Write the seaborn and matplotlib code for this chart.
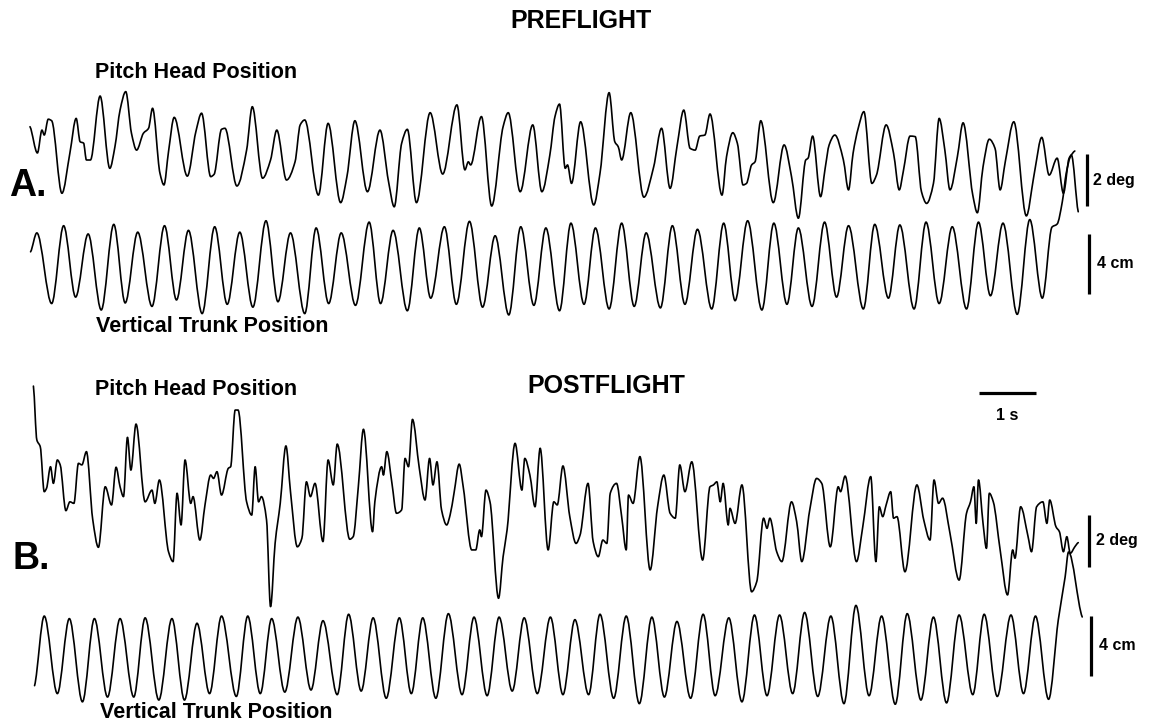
import numpy as np
import matplotlib
matplotlib.use("Agg")
import matplotlib.pyplot as plt
from matplotlib.path import Path
from matplotlib.patches import PathPatch
import seaborn as sns

# ---------------------------------------------------------------------------
# Recorded traces: time (s) and displacement (deg for head pitch, cm for trunk)
# ---------------------------------------------------------------------------
head_a_t = [
    0.00, 0.13, 0.21, 0.25, 0.32, 0.38, 0.56, 0.70, 0.81, 0.88,
    0.94, 0.99, 1.06, 1.23, 1.40, 1.49, 1.58, 1.68, 1.78, 1.87,
    1.99, 2.08, 2.15, 2.28, 2.35, 2.43, 2.53, 2.76, 2.91, 3.01,
    3.17, 3.23, 3.36, 3.42, 3.63, 3.80, 3.90, 4.08, 4.22, 4.33,
    4.50, 4.65, 4.74, 4.82, 5.06, 5.23, 5.45, 5.56, 5.70, 5.92,
    6.14, 6.29, 6.39, 6.52, 6.62, 6.78, 7.02, 7.24, 7.49, 7.63,
    7.69, 7.73, 7.92, 8.10, 8.30, 8.39, 8.60, 8.82, 8.98, 9.12,
    9.21, 9.29, 9.39, 9.43, 9.50, 9.66, 9.89, 10.00, 10.16, 10.26,
    10.32, 10.38, 10.54, 10.77, 10.94, 11.08, 11.23, 11.35, 11.47, 11.58,
    11.67, 11.75, 11.84, 11.93, 12.14, 12.22, 12.33, 12.41, 12.51, 12.57,
    12.66, 12.72, 12.82, 13.04, 13.23, 13.36, 13.48, 13.61, 13.65, 13.73,
    13.87, 13.95, 14.02, 14.12, 14.27, 14.36, 14.44, 14.53, 14.63, 14.77,
    14.85, 15.02, 15.15, 15.25, 15.32, 15.44, 15.53, 15.64, 15.73, 15.85,
    15.95, 16.05, 16.14, 16.27, 16.37, 16.54, 16.62, 16.72, 16.83, 16.93,
    17.02, 17.11, 17.26, 17.48, 17.60, 17.63, 17.75, 17.88, 18.02, 18.13,
    18.23, 18.27, 18.39,
]
head_a_deg = [
    1.28, 0.27, 1.15, 0.96, 1.57, 1.51, -1.28, 0.27, 1.60, 0.70,
    0.65, 0.00, 0.00, 2.46, -0.32, 0.51, 1.92, 2.63, 1.03, 0.38,
    1.03, 1.22, 1.99, -0.51, -0.96, 0.32, 1.64, -0.62, 1.09, 1.80,
    -0.64, -0.55, 1.18, 1.22, -1.00, 0.38, 2.05, -0.70, 0.00, 1.15,
    -0.77, -0.07, 1.35, 1.54, -1.35, 1.41, -1.64, -0.64, 1.51, -1.22,
    1.15, -0.83, -1.80, 0.64, 1.18, -1.64, 1.82, -0.54, 2.12, -0.38,
    -0.07, -0.19, 1.67, -1.77, 1.28, 1.82, -1.22, 1.35, -1.22, 0.19,
    1.67, 2.15, -0.32, -0.19, -0.90, 1.47, -1.73, -0.51, 2.59, 0.70,
    0.51, 0.00, 1.82, -1.43, -0.28, 1.22, -1.09, 0.51, 1.92, 0.45,
    0.38, 0.92, 0.96, 1.77, -1.35, 0.13, 1.05, 0.64, -0.96, -0.90,
    -0.19, -0.07, 1.51, -1.64, 0.58, -0.64, -2.24, 0.00, 0.07, 0.92,
    -1.41, -0.32, 0.58, 0.96, 0.00, -1.15, 0.26, 1.22, 1.86, -0.90,
    -0.58, 1.35, 0.26, -1.15, -0.45, 0.92, 0.90, -1.22, -1.67, -0.90,
    1.60, 0.38, -1.15, 0.13, 1.43, -1.35, -2.03, -0.26, 0.80, 0.45,
    -1.15, -0.07, 1.47, -2.15, -0.77, -0.38, 0.87, -0.58, 0.07, -1.28,
    0.07, 0.19, -1.99,
]

trunk_a_t = [
    0.01, 0.12, 0.38, 0.59, 0.80, 1.02, 1.25, 1.47, 1.67, 1.89,
    2.14, 2.36, 2.57, 2.78, 3.02, 3.24, 3.46, 3.68, 3.91, 4.14,
    4.35, 4.57, 4.82, 5.02, 5.24, 5.46, 5.71, 5.95, 6.15, 6.37,
    6.62, 6.83, 7.03, 7.27, 7.48, 7.71, 7.94, 8.16, 8.40, 8.61,
    8.84, 9.05, 9.29, 9.49, 9.72, 9.92, 10.16, 10.38, 10.60, 10.81,
    11.06, 11.27, 11.49, 11.71, 11.96, 12.17, 12.37, 12.59, 12.84, 13.05,
    13.28, 13.48, 13.72, 13.94, 14.15, 14.36, 14.62, 14.82, 15.06, 15.26,
    15.51, 15.72, 15.95, 16.18, 16.43, 16.64, 16.85, 17.07, 17.32, 17.54,
    17.76, 17.93, 18.02, 18.11, 18.18, 18.25, 18.33,
]
trunk_a_cm = [
    0.88, 2.14, -2.57, 2.62, -2.14, 2.07, -3.00, 2.71, -2.53, 2.19,
    -2.76, 2.62, -2.33, 2.31, -3.24, 2.55, -2.62, 2.19, -2.81, 2.95,
    -2.45, 2.14, -3.24, 2.47, -2.57, 2.14, -2.69, 2.86, -2.57, 2.31,
    -3.05, 2.47, -2.21, 2.55, -2.62, 2.91, -2.81, 1.95, -3.33, 2.55,
    -2.69, 2.47, -3.05, 2.79, -2.62, 2.47, -2.93, 2.79, -2.76, 2.14,
    -2.86, 2.62, -2.62, 2.38, -2.93, 2.79, -2.38, 2.95, -3.00, 2.79,
    -2.62, 2.47, -2.76, 2.86, -2.14, 2.62, -2.93, 2.71, -2.21, 2.67,
    -2.93, 2.86, -2.57, 2.55, -2.93, 2.86, -2.05, 2.79, -3.29, 3.03,
    -2.21, 2.53, 2.73, 4.20, 6.13, 7.20, 7.60,
]

head_b_t = [
    0.06, 0.12, 0.18, 0.25, 0.29, 0.36, 0.41, 0.48, 0.53, 0.63,
    0.70, 0.77, 0.85, 0.91, 0.99, 1.10, 1.20, 1.32, 1.43, 1.51,
    1.58, 1.64, 1.71, 1.77, 1.86, 2.02, 2.14, 2.19, 2.27, 2.43,
    2.51, 2.58, 2.65, 2.72, 2.82, 2.86, 2.98, 3.07, 3.17, 3.22,
    3.28, 3.36, 3.48, 3.52, 3.60, 3.65, 3.80, 3.89, 3.95, 4.01,
    4.06, 4.15, 4.22, 4.30, 4.39, 4.49, 4.57, 4.69, 4.77, 4.85,
    4.92, 5.00, 5.14, 5.23, 5.32, 5.39, 5.61, 5.67, 5.76, 5.85,
    6.01, 6.05, 6.17, 6.20, 6.26, 6.35, 6.43, 6.52, 6.58, 6.64,
    6.71, 6.83, 6.93, 7.01, 7.07, 7.14, 7.22, 7.31, 7.37, 7.44,
    7.53, 7.60, 7.75, 7.82, 7.89, 7.92, 8.00, 8.07, 8.22, 8.30,
    8.37, 8.51, 8.63, 8.68, 8.77, 8.86, 8.95, 9.09, 9.19, 9.25,
    9.35, 9.47, 9.58, 9.65, 9.79, 9.88, 9.97, 10.05, 10.12, 10.18,
    10.29, 10.38, 10.46, 10.50, 10.58, 10.70, 10.88, 11.01, 11.12, 11.23,
    11.32, 11.40, 11.49, 11.61, 11.80, 11.93, 11.99, 12.05, 12.11, 12.16,
    12.25, 12.28, 12.37, 12.49, 12.66, 12.75, 12.87, 12.93, 12.98, 13.10,
    13.19, 13.36, 13.45, 13.54, 13.68, 13.80, 13.89, 14.04, 14.18, 14.22,
    14.30, 14.50, 14.61, 14.75, 14.84, 14.90, 14.96, 15.02, 15.10, 15.15,
    15.21, 15.35, 15.56, 15.68, 15.79, 15.86, 15.94, 16.01, 16.14, 16.30,
    16.43, 16.50, 16.56, 16.60, 16.64, 16.72, 16.78, 16.83, 16.90, 17.02,
    17.15, 17.24, 17.28, 17.38, 17.51, 17.57, 17.66, 17.77, 17.84, 17.89,
    18.00, 18.06, 18.13, 18.19, 18.25, 18.33, 18.39,
]
head_b_deg = [
    4.38, 2.31, 2.05, 0.32, 0.45, 1.28, 0.64, 1.54, 1.35, -0.41,
    -0.07, -0.13, 1.41, 1.35, 1.86, -0.74, -1.82, 0.51, -0.19, 1.26,
    0.51, 0.13, 2.41, 1.15, 2.92, -0.07, 0.38, -0.13, 0.77, -1.99,
    -2.37, 0.26, -0.96, 1.54, -0.13, 0.13, -1.54, -0.19, 0.96, 0.83,
    1.09, 0.19, 1.22, 1.28, 3.46, 3.46, -0.07, -0.58, 1.28, -0.07,
    0.13, -0.77, -4.10, -1.67, -0.13, 2.08, 0.32, -1.80, -1.47, 0.70,
    0.13, 0.64, -1.60, 1.54, 0.58, 2.15, -1.51, -1.41, 0.51, 2.72,
    -1.22, -0.07, 1.28, 0.96, 1.86, 0.64, -0.51, -0.38, 1.60, 1.28,
    3.10, 1.22, 0.00, 1.60, 0.58, 1.47, -0.38, -0.96, -0.58, 0.28,
    1.38, 0.51, -1.92, -1.92, -1.15, -1.41, 0.38, -0.07, -3.78, -2.18,
    -1.15, 2.18, 0.38, 1.60, 0.96, -0.26, 1.99, -1.92, -0.07, -0.19,
    1.31, -0.64, -1.67, -1.35, 0.64, -1.60, -2.18, -1.54, -1.67, 0.26,
    0.64, -0.64, -1.92, 0.19, -0.13, 1.67, -2.69, -0.26, 0.96, -0.51,
    -0.70, 1.35, 0.32, 1.47, -2.31, 0.51, 0.58, 0.70, -0.07, 0.64,
    -0.96, -0.32, -0.90, 0.58, -3.53, -3.14, -0.70, -1.09, -0.70, -1.99,
    -2.37, -0.07, -0.83, -2.37, -0.38, 0.83, 0.64, -1.80, 0.51, 0.32,
    0.92, -2.37, -1.03, 0.90, -2.37, -0.26, -0.64, -0.19, 0.32, -0.70,
    -0.64, -2.76, 0.58, -0.77, -1.54, 0.77, -0.13, 0.07, -1.28, -3.08,
    -0.51, -0.07, 0.51, -0.90, 0.77, -0.90, -1.86, 0.26, -0.07, -1.92,
    -3.65, -1.92, -2.24, -0.26, -1.41, -1.99, -0.26, -0.07, -0.90, 0.00,
    -1.03, -1.22, -1.99, -1.41, -2.05, -1.80, -1.64,
]

trunk_b_t = [
    0.08, 0.25, 0.48, 0.69, 0.92, 1.13, 1.36, 1.58, 1.82, 2.02,
    2.26, 2.49, 2.71, 2.93, 3.15, 3.36, 3.62, 3.82, 4.04, 4.24,
    4.47, 4.70, 4.93, 5.14, 5.39, 5.59, 5.81, 6.02, 6.25, 6.48,
    6.69, 6.89, 7.12, 7.34, 7.58, 7.79, 8.02, 8.23, 8.46, 8.67,
    8.90, 9.13, 9.35, 9.56, 9.80, 10.00, 10.24, 10.46, 10.69, 10.91,
    11.13, 11.35, 11.59, 11.81, 12.02, 12.26, 12.49, 12.71, 12.93, 13.15,
    13.38, 13.59, 13.82, 14.05, 14.28, 14.49, 14.72, 14.94, 15.18, 15.39,
    15.63, 15.85, 16.08, 16.30, 16.54, 16.74, 16.97, 17.21, 17.43, 17.64,
    17.87, 18.04, 18.16, 18.22, 18.46,
]
trunk_b_cm = [
    -1.91, 2.73, -2.44, 2.56, -2.99, 2.56, -2.67, 2.56, -2.67, 2.61,
    -2.87, 2.56, -2.87, 2.25, -2.44, 2.73, -2.63, 2.73, -2.44, 2.56,
    -2.34, 2.66, -2.20, 2.42, -2.51, 2.85, -2.27, 2.61, -2.75, 2.61,
    -2.44, 2.61, -2.75, 2.89, -2.51, 2.66, -2.58, 2.66, -2.27, 2.61,
    -2.44, 2.66, -2.51, 2.49, -2.51, 2.85, -2.75, 2.73, -3.11, 2.66,
    -2.67, 2.37, -2.75, 2.85, -2.58, 2.61, -2.99, 2.80, -2.58, 2.80,
    -2.44, 2.97, -2.63, 2.73, -3.11, 3.44, -2.58, 2.73, -3.15, 2.89,
    -2.87, 2.66, -3.06, 2.80, -2.51, 2.85, -2.63, 2.80, -2.44, 2.73,
    -2.82, 2.47, 5.33, 7.00, 2.67,
]

for a, b in [(head_a_t, head_a_deg), (trunk_a_t, trunk_a_cm),
             (head_b_t, head_b_deg), (trunk_b_t, trunk_b_cm)]:
    assert len(a) == len(b), (len(a), len(b))

# Text content
panel_titles = ["PREFLIGHT", "POSTFLIGHT"]
panel_letters = ["A.", "B."]
head_label = "Pitch Head Position"
trunk_label = "Vertical Trunk Position"
head_scale = (2, "2 deg")
trunk_scale = (4, "4 cm")
time_scale = (1, "1 s")

# ---------------------------------------------------------------------------
# Figure geometry (pixels of the 1153 x 724 canvas)
# ---------------------------------------------------------------------------
W, H = 1153, 724
T0_PX = 30.0          # left edge of the records
PX_PER_S = 57.0
PX_PER_DEG = 26.0
PX_PER_CM = 15.0
FONT = "Liberation Sans"

sns.set_theme(style="white")
plt.rcParams["font.family"] = [FONT, "DejaVu Sans"]
plt.rcParams["text.color"] = "black"

fig = plt.figure(figsize=(W / 100, H / 100), dpi=100)
fig.patch.set_facecolor("white")


def trace_axes(baseline_px, px_per_unit):
    ax = fig.add_axes([0, 0, 1, 1])
    ax.set_xlim(-T0_PX / PX_PER_S, (W - T0_PX) / PX_PER_S)
    ax.set_ylim(-(H - baseline_px) / px_per_unit, baseline_px / px_per_unit)
    ax.set_axis_off()
    ax.patch.set_alpha(0)
    return ax


def smooth_trace(ax, t, v, lw=1.2):
    """Draw a record as a shape-preserving cubic (Bezier) curve through its samples."""
    t = np.asarray(t, float)
    v = np.asarray(v, float)
    h = np.diff(t)
    d = np.diff(v) / h
    m = np.zeros_like(v)
    for i in range(1, len(v) - 1):
        if d[i - 1] * d[i] > 0:
            w1 = 2 * h[i] + h[i - 1]
            w2 = h[i] + 2 * h[i - 1]
            m[i] = (w1 + w2) / (w1 / d[i - 1] + w2 / d[i])
    m[0] = d[0] * 0.5
    m[-1] = d[-1] * 0.5
    verts = [(t[0], v[0])]
    codes = [Path.MOVETO]
    for i in range(len(t) - 1):
        dt = h[i] / 3.0
        verts += [(t[i] + dt, v[i] + m[i] * dt),
                  (t[i + 1] - dt, v[i + 1] - m[i + 1] * dt),
                  (t[i + 1], v[i + 1])]
        codes += [Path.CURVE4] * 3
    ax.add_patch(PathPatch(Path(verts, codes), fill=False, lw=lw,
                           edgecolor="black", capstyle="round", joinstyle="round"))


def px_t(x):
    return (x - T0_PX) / PX_PER_S


def ftext(x, y, s, size, **kw):
    fig.text(x / W, 1 - y / H, s, fontsize=size, fontweight="bold",
             family=[FONT, "DejaVu Sans"], color="black",
             ha=kw.pop("ha", "center"), va=kw.pop("va", "center"), **kw)


# Panel A (preflight)
ax_ha = trace_axes(160, PX_PER_DEG)
ax_ta = trace_axes(265, PX_PER_CM)
smooth_trace(ax_ha, head_a_t, head_a_deg)
smooth_trace(ax_ta, trunk_a_t, trunk_a_cm)

# Panel B (postflight)
ax_hb = trace_axes(500, PX_PER_DEG)
ax_tb = trace_axes(657, PX_PER_CM)
smooth_trace(ax_hb, head_b_t, head_b_deg)
smooth_trace(ax_tb, trunk_b_t, trunk_b_cm)

# Calibration bars
bar_kw = dict(color="black", lw=2.3, solid_capstyle="butt")
ax_ha.plot([px_t(1087)] * 2, [0.22, 0.22 - head_scale[0]], **bar_kw)
ax_ta.plot([px_t(1089)] * 2, [2.07, 2.07 - trunk_scale[0]], **bar_kw)
ax_hb.plot([px_t(1089)] * 2, [-0.58, -0.58 - head_scale[0]], **bar_kw)
ax_tb.plot([px_t(1091)] * 2, [2.73, 2.73 - trunk_scale[0]], **bar_kw)
t_bar0 = px_t(979)
ax_hb.plot([t_bar0, t_bar0 + time_scale[0]], [4.12, 4.12], **bar_kw)

# Titles, labels and scale annotations
ftext(581, 21, panel_titles[0], 18)
ftext(606, 386, panel_titles[1], 18)
ftext(196, 73, head_label, 15.5)
ftext(212, 326, trunk_label, 15.5)
ftext(196, 389, head_label, 15.5)
ftext(216, 713, trunk_label, 15.5)
ftext(28, 186, panel_letters[0], 27)
ftext(31, 559, panel_letters[1], 27)
ftext(1093, 181, head_scale[1], 11.5, ha="left")
ftext(1097, 264, trunk_scale[1], 11.5, ha="left")
ftext(1096, 541, head_scale[1], 11.5, ha="left")
ftext(1099, 645, trunk_scale[1], 11.5, ha="left")
ftext(1007, 415, time_scale[1], 11.5)

fig.savefig("out.png", dpi=100, facecolor="white")
